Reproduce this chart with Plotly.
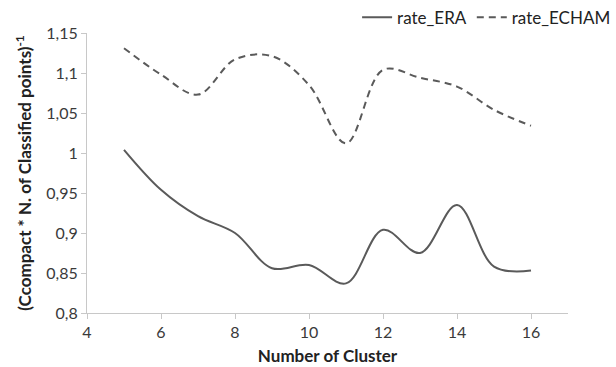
import plotly.graph_objects as go

clusters = [5, 6, 7, 8, 9, 10, 11, 12, 13, 14, 15, 16]
rate_era = [1.004, 0.954, 0.921, 0.900, 0.856, 0.860, 0.837, 0.904, 0.875, 0.935, 0.858, 0.853]
rate_echam = [1.131, 1.098, 1.073, 1.117, 1.121, 1.085, 1.012, 1.104, 1.094, 1.083, 1.054, 1.034]

y_tickvals = [0.8, 0.85, 0.9, 0.95, 1.0, 1.05, 1.1, 1.15]
y_ticktext = ["0,8", "0,85", "0,9", "0,95", "1", "1,05", "1,1", "1,15"]
x_tickvals = [4, 6, 8, 10, 12, 14, 16]

line_color = "#5a5a5a"
font_family = "Lato, 'Open Sans', sans-serif"

fig = go.Figure()
fig.add_trace(go.Scatter(
    x=clusters, y=rate_era, name="rate_ERA", mode="lines",
    line=dict(color=line_color, width=2, shape="spline", smoothing=1.0),
))
fig.add_trace(go.Scatter(
    x=clusters, y=rate_echam, name="rate_ECHAM", mode="lines",
    line=dict(color=line_color, width=2, shape="spline", smoothing=1.0, dash="7px,5px"),
))

fig.update_layout(
    width=616, height=367,
    margin=dict(l=87, r=48, t=33, b=54, autoexpand=False),
    paper_bgcolor="white", plot_bgcolor="white",
    font=dict(family=font_family, color="#3a3a3a", size=16),
    showlegend=True,
    legend=dict(
        orientation="h", x=1.1, xanchor="right", y=1.055, yanchor="middle",
        font=dict(size=17, color="#222"), itemwidth=30, bgcolor="rgba(0,0,0,0)",
        traceorder="normal", tracegroupgap=0,
    ),
    xaxis=dict(
        range=[4, 17], tickvals=x_tickvals, showgrid=False, zeroline=False,
        showline=True, linecolor="#c8c8c8", linewidth=1,
        ticks="outside", ticklen=5, tickcolor="#c8c8c8",
        tickfont=dict(size=16, color="#3a3a3a"),
        title=dict(text="<b>Number of Cluster</b>", font=dict(size=17, color="#222"), standoff=9),
    ),
    yaxis=dict(
        range=[0.8, 1.15], tickvals=y_tickvals, ticktext=y_ticktext,
        showgrid=False, zeroline=False,
        showline=True, linecolor="#c8c8c8", linewidth=1,
        ticks="outside", ticklen=5, tickcolor="#c8c8c8",
        tickfont=dict(size=16, color="#3a3a3a"),
        title=dict(text="<b>(Ccompact * N. of Classified points)<sup>-1</sup></b>",
                   font=dict(size=17, color="#222"), standoff=10),
    ),
)

fig.write_html("out.html")
